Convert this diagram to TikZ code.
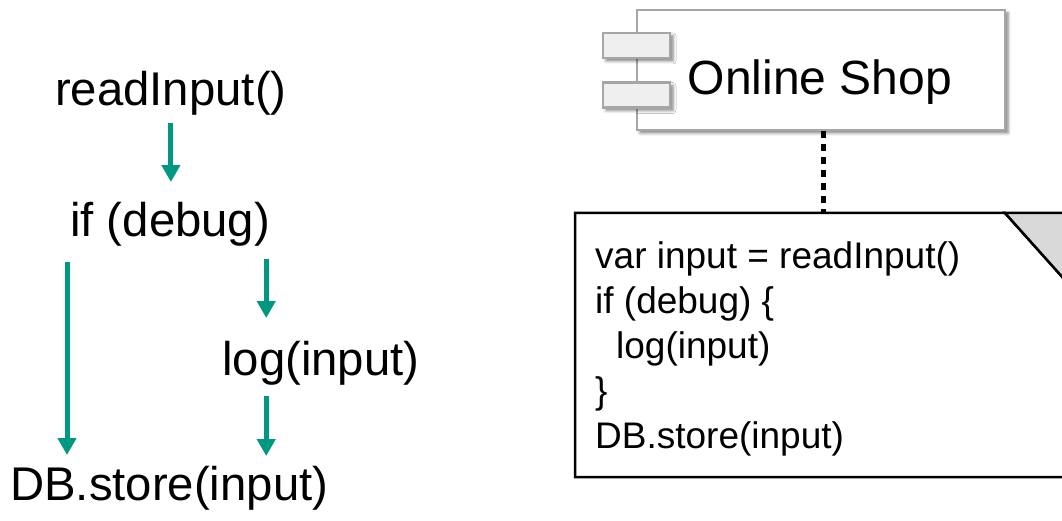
\documentclass[tikz,border=0pt]{standalone}
\usepackage{fontspec}
\setmainfont{Liberation Sans}
\usepackage{tikz}
\usetikzlibrary{arrows.meta,shadows.blur}
\definecolor{flowgreen}{RGB}{0,152,128}
\definecolor{compgray}{RGB}{166,166,166}
\definecolor{portgray}{RGB}{239,239,239}
\definecolor{foldgray}{RGB}{217,217,217}

\begin{document}
\begin{tikzpicture}[x=1pt,y=-1pt,>={Triangle[width=18pt,length=17pt]}]
\tikzstyle{code}=[inner sep=0pt,anchor=base west,font=\fontsize{47.3pt}{56pt}\selectfont]
\tikzstyle{flow}=[->,draw=flowgreen,fill=flowgreen,line width=5pt]
\tikzstyle{comp}=[draw=compgray,fill=white,line width=2.5pt,inner sep=0pt,
  blur shadow={shadow xshift=3pt,shadow yshift=-3pt,shadow blur radius=3pt,shadow opacity=50}]
\tikzstyle{port}=[comp,fill=portgray,minimum width=67pt,minimum height=25pt]
\tikzstyle{notebox}=[draw=black,fill=white,line width=2.5pt]
\useasboundingbox (0,0) rectangle (1062,521);
\clip (0,0) rectangle (1062,521);

\node[code] (read)  at (55,106)  {readInput()};
\node[code] (debug) at (70,237)  {if (debug)};
\node[code] (log)   at (222,375) {log(input)};
\node[code] (store) at (10,500)  {DB.store(input)};

\draw[flow,shorten <=7pt,shorten >=20.5pt] (read.south) -- (read.south |- debug.north);
\draw[flow,shorten <=15pt,shorten >=10.5pt] ([xshift=-3pt]debug.south west) -- ([xshift=-3pt]debug.south west |- store.north);
\draw[flow,shorten <=12pt,shorten >=22.5pt] ([xshift=-4pt]debug.south east) -- ([xshift=-4pt]debug.south east |- log.north);
\draw[flow,shorten <=11pt,shorten >=9.5pt] ([xshift=-4pt]debug.south east |- log.south) -- ([xshift=-4pt]debug.south east |- store.north);

\node[comp,minimum width=368pt,minimum height=120pt] (shop) at (821,70) {};
\node[port] (port1) at (636.5,45.5) {};
\node[port] (port2) at (636.5,95) {};
\node[code,anchor=base,font=\fontsize{48pt}{56pt}\selectfont] (shoplabel) at (820,95) {Online Shop};

\coordinate (notetop) at (823,213);
\draw[line width=5pt,dash pattern=on 7pt off 6pt] (shop.south -| notetop) -- (notetop);
\draw[notebox] (575,213) -- (1005,213) -- (1090,308) -- (1090,477) -- (575,477) -- cycle;
\draw[notebox,fill=foldgray] (1005,213) -- (1090,213) -- (1090,308) -- cycle;
\node[inner sep=0pt,anchor=north west,align=left,font=\fontsize{37pt}{45pt}\selectfont] (code) at (595,241)
  {var input = readInput()\\ if (debug) \{\\ \hspace*{21pt}log(input)\\ \}\\ DB.store(input)};
\end{tikzpicture}
\end{document}
